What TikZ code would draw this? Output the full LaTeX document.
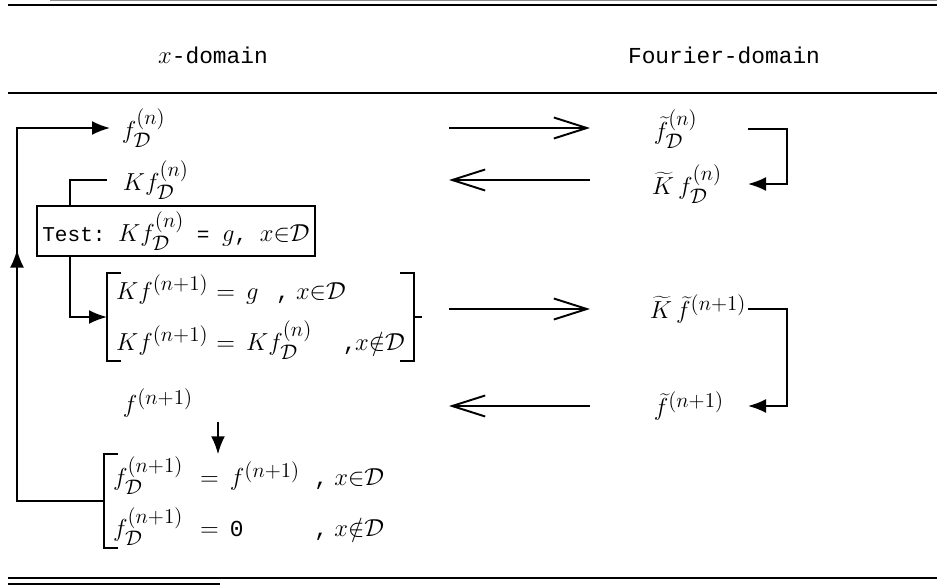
\RequirePackage{fix-cm}
\documentclass[tikz,border=0pt]{standalone}
\usepackage{fontspec}
\setmonofont{Liberation Mono}
\usetikzlibrary{arrows.meta,positioning,calc,decorations.markings}
\DeclareMathSizes{13}{14}{12}{9}
\DeclareMathSizes{12}{14}{12}{9}
\newcommand\fdcol[2]{\makebox[#1][l]{#2}}
\tikzset{
  fd/label/.style={
    font=\fontsize{13}{16}\selectfont\ttfamily,
    inner sep=2pt
  },
  fd/test/.style={
    draw,
    line width=1.1pt,
    fill=white,
    font=\fontsize{12}{14}\selectfont\ttfamily,
    minimum width=5.32cm,
    minimum height=0.92cm,
    inner xsep=3pt
  },
  fd/system/.style={
    font=\fontsize{13}{29}\selectfont\ttfamily,
    align=left,
    inner xsep=5pt,
    inner ysep=1pt
  },
  fd/bracket/.style={line width=1.1pt},
  fd/transform/.style={line width=1.1pt, -{Straight Barb[length=0.66cm,width=0.42cm]}},
  fd/loop/.style={line width=1.1pt, -{Latex[length=0.36cm,width=0.28cm]}},
  fd/midarrow/.style={postaction={decorate}, decoration={markings,
      mark=at position #1 with {\arrow{Latex[length=0.36cm,width=0.28cm]}}}},
  fd/rule/.style={line width=1pt}
}

\begin{document}
\begin{tikzpicture}[x=0.02cm,y=-0.02cm]
  \useasboundingbox (0,0) rectangle (937,585);
  % table rules
  \draw[line width=0.6pt, black!45] (50,0.5) -- (937,0.5);
  \draw[fd/rule] (8,5) -- (937,5);
  \draw[fd/rule] (8,93) -- (937,93);
  \draw[fd/rule] (8,578) -- (937,578);
  \draw[fd/rule] (8,584) -- (220,584);

  % headings
  \node[fd/label] (xhdr) at (213,55) {$x$-domain};
  \node[fd/label] (fhdr) at (724,55) {Fourier-domain};

  % x-domain column
  \node[fd/label, anchor=west] (fdn) at (118,128) {$f_{\mathcal{D}}^{(n)}$};
  \node[fd/label, anchor=west] (kfdn) at (119,180) {$Kf_{\mathcal{D}}^{(n)}$};
  \node[fd/system, anchor=west] (sys1) at (107,317) {%
    \fdcol{57pt}{$Kf^{(n+1)}$}\fdcol{17pt}{$=$}\fdcol{17pt}{$g$}\fdcol{11.4pt}{,}$x{\in}\mathcal{D}$\\
    \fdcol{57pt}{$Kf^{(n+1)}$}\fdcol{17pt}{$=$}\fdcol{55pt}{$Kf_{\mathcal{D}}^{(n)}$}\fdcol{7pt}{,}$x{\notin}\mathcal{D}$};
  \node[fd/label, anchor=west] (fnp) at (119,403) {$f^{(n+1)}$};
  \node[fd/system, anchor=west] (sys2) at (104,501) {%
    \fdcol{49.5pt}{$f_{\mathcal{D}}^{(n+1)}$}\fdcol{17pt}{$=$}\fdcol{48pt}{$f^{(n+1)}$}\fdcol{11.4pt}{,}$x{\in}\mathcal{D}$\\
    \fdcol{49.5pt}{$f_{\mathcal{D}}^{(n+1)}$}\fdcol{17pt}{$=$}\fdcol{48pt}{0}\fdcol{11.4pt}{,}$x{\notin}\mathcal{D}$};

  % brackets
  \draw[fd/bracket] ([xshift=8pt]sys1.north west) -- (sys1.north west)
    -- (sys1.south west) -- ([xshift=8pt]sys1.south west);
  \draw[fd/bracket] ([xshift=-8pt]sys1.north east) -- (sys1.north east)
    -- (sys1.south east) -- ([xshift=-8pt]sys1.south east);
  \draw[fd/bracket] (sys1.east) -- ++(8,0);
  \draw[fd/bracket] ([xshift=8pt]sys2.north west) -- (sys2.north west)
    -- (sys2.south west) -- ([xshift=8pt]sys2.south west);

  % Fourier-domain column
  \node[fd/label, anchor=west] (tfdn) at (650,129) {$\widetilde{f}_{\mathcal{D}}^{(n)}$};
  \node[fd/label, anchor=west] (tkfdn) at (648,184) {$\widetilde{K}\,f_{\mathcal{D}}^{(n)}$};
  \node[fd/label, anchor=west] (tktfnp) at (646,309) {$\widetilde{K}\,\widetilde{f}^{(n+1)}$};
  \node[fd/label, anchor=west] (tfnp) at (650,406) {$\widetilde{f}^{(n+1)}$};

  % transforms between the domains
  \coordinate (xl) at (449,0);
  \coordinate (xr) at (590,0);
  \draw[fd/transform] (fdn -| xl) -- (fdn -| xr);
  \draw[fd/transform] (kfdn -| xr) -- (kfdn -| xl);
  \draw[fd/transform] (tktfnp -| xl) -- (tktfnp -| xr);
  \draw[fd/transform] (tfnp -| xr) -- (tfnp -| xl);

  % loops on the right
  \coordinate (rl) at (748,0);
  \coordinate (rr) at (787,0);
  \draw[fd/loop] (tfdn -| rl) -- (tfdn -| rr) -- (tkfdn -| rr) -- (tkfdn -| rl);
  \draw[fd/loop] (tktfnp -| rl) -- (tktfnp -| rr) -- (tfnp -| rr) -- (tfnp -| rl);

  % loops on the left
  \coordinate (lk) at (70,0);
  \coordinate (lb) at (17,0);
  \coordinate (ld) at (218,0);
  \draw[fd/loop] ([xshift=-0.24cm]kfdn.west) -- (kfdn -| lk) -- (sys1 -| lk) -- (sys1.west);
  \draw[fd/loop, fd/midarrow=0.612] (sys2.west) -- (sys2 -| lb) -- (fdn -| lb)
    -- ([xshift=-0.16cm]fdn.west);
  \draw[fd/loop] (fnp.south -| ld) -- (sys2.north -| ld);

  \node[fd/test] (test) at (176,231) {Test: $Kf_{\mathcal{D}}^{(n)}$ = $g$, $x{\in}\mathcal{D}$};
\end{tikzpicture}
\end{document}
